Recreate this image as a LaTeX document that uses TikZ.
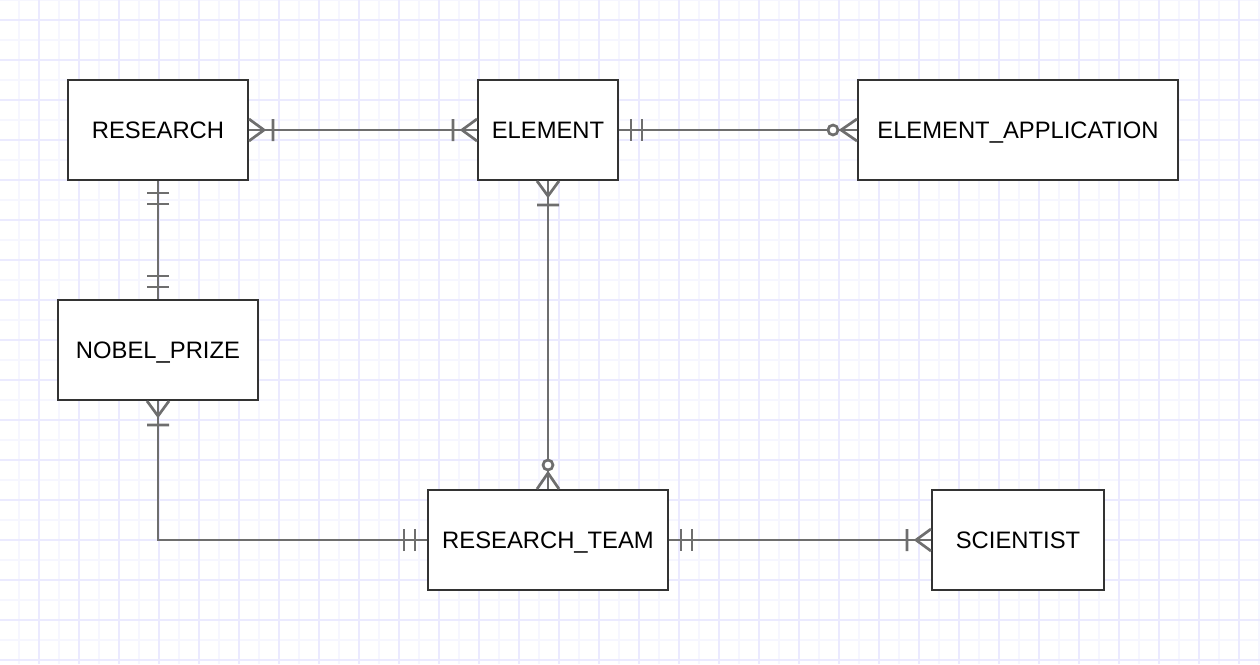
\documentclass[tikz,border=0pt]{standalone}
\usepackage{xcolor}
\usepackage{tikz}
\usepackage{fontspec}
\setmainfont{Liberation Sans}
\definecolor{gridminor}{RGB}{246, 246, 255}
\definecolor{gridmajor}{RGB}{235, 234, 255}
\definecolor{boxline}{RGB}{51, 51, 51}
\definecolor{relgray}{RGB}{110, 110, 110}
\usetikzlibrary{positioning, calc}

% ER end markers: #1 = anchor, #2 = direction of the line leaving the box
\newcommand{\erOneMany}[2]{\begin{scope}[shift={(#1)}, rotate=#2]
    \draw[rel] (0,11) -- (15,0) -- (0,-11) (24,11) -- (24,-11);
\end{scope}}
\newcommand{\erOneOnly}[2]{\begin{scope}[shift={(#1)}, rotate=#2]
    \draw[rel] (12,11) -- (12,-11) (23,11) -- (23,-11);
\end{scope}}
\newcommand{\erZeroMany}[2]{\begin{scope}[shift={(#1)}, rotate=#2]
    \draw[rel] (0,11) -- (16,0) -- (0,-11);
    \draw[rel, fill=white] (24,0) circle (5);
\end{scope}}

\begin{document}
\begin{tikzpicture}[
    x=1pt, y=1pt,
    entity/.style={rectangle, draw=boxline, fill=white, line width=2pt, minimum height=100pt, inner sep=0pt, text height=17pt, text depth=0pt, font=\fontsize{23.8}{28}\selectfont},
    rel/.style={draw=relgray, line width=2.7pt}
]
    \useasboundingbox (0,0) rectangle (1260,-664);
    \fill[white] (0,0) rectangle (1260,-664);

    % Grid
    \foreach \gx in {19,59,...,1259} \draw[gridminor, line width=1.8pt] (\gx,0) -- (\gx,-664);
    \foreach \gy in {0,40,...,660} \draw[gridminor, line width=1.8pt] (0,-\gy) -- (1260,-\gy);
    \foreach \gx in {39,79,...,1259} \draw[gridmajor, line width=1.8pt] (\gx,0) -- (\gx,-664);
    \foreach \gy in {20,60,...,660} \draw[gridmajor, line width=1.8pt] (0,-\gy) -- (1260,-\gy);

    % Entities
    \node[entity, minimum width=180pt] (research) at (158,-130) {RESEARCH};
    \node[entity, minimum width=140pt] (element) at (548,-130) {ELEMENT};
    \node[entity, minimum width=320pt] (app) at (1018,-130) {ELEMENT\_APPLICATION};
    \node[entity, minimum width=200pt] (nobel) at (158,-350) {NOBEL\_PRIZE};
    \node[entity, minimum width=240pt] (team) at (548,-540) {RESEARCH\_TEAM};
    \node[entity, minimum width=172pt] (scientist) at (1018,-540) {SCIENTIST};

    % Relationships
    \draw[rel] (research.east) -- (element.west);
    \erOneMany{research.east}{0}
    \erOneMany{element.west}{180}

    \draw[rel] (element.east) -- (app.west);
    \erOneOnly{element.east}{0}
    \erZeroMany{app.west}{180}

    \draw[rel] (research.south) -- (nobel.north);
    \erOneOnly{research.south}{-90}
    \erOneOnly{nobel.north}{90}

    \draw[rel] (nobel.south) |- (team.west);
    \erOneMany{nobel.south}{-90}
    \erOneOnly{team.west}{180}

    \draw[rel] (element.south) -- (team.north);
    \erOneMany{element.south}{-90}
    \erZeroMany{team.north}{90}

    \draw[rel] (team.east) -- (scientist.west);
    \erOneOnly{team.east}{0}
    \erOneMany{scientist.west}{180}
\end{tikzpicture}
\end{document}
